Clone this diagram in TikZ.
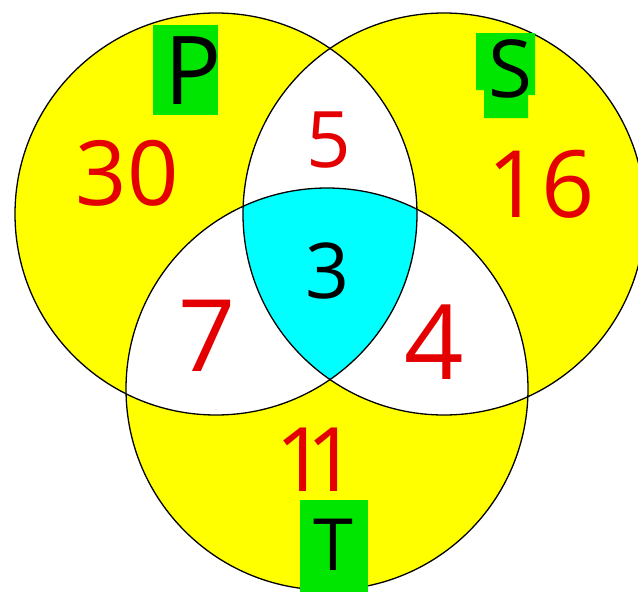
\documentclass[tikz,border=0pt]{standalone}
\usepackage{fontspec}
\setmainfont{Open Sans}
\definecolor{vyellow}{RGB}{255,255,0}
\definecolor{vcyan}{RGB}{0,255,255}
\definecolor{vgreen}{RGB}{0,230,0}
\definecolor{vred}{RGB}{228,0,0}
\begin{document}
\begin{tikzpicture}[x=1pt,y=-1pt,
  num/.style={text=vred, inner sep=0pt},
  setlbl/.style={text=black, inner sep=0pt},
  ring/.style={draw=black, line width=1.3pt},
  tag/.style={fill=vgreen, draw=none}]
\useasboundingbox (0,0) rectangle (638,592);
\coordinate (cP) at (216,214);
\coordinate (cS) at (444,214);
\coordinate (cT) at (327,389);
% single regions
\fill[vyellow] (cP) circle [radius=201pt];
\fill[vyellow] (cS) circle [radius=201pt];
\fill[vyellow] (cT) circle [radius=201pt];
% pairwise regions
\begin{scope}
  \clip (cP) circle [radius=201pt];
  \fill[white] (cS) circle [radius=201pt];
  \fill[white] (cT) circle [radius=201pt];
\end{scope}
\begin{scope}
  \clip (cS) circle [radius=201pt];
  \fill[white] (cT) circle [radius=201pt];
\end{scope}
% triple region
\begin{scope}
  \clip (cP) circle [radius=201pt];
  \clip (cS) circle [radius=201pt];
  \fill[vcyan] (cT) circle [radius=201pt];
\end{scope}
% outlines
\draw[ring] (cP) circle [radius=201pt];
\draw[ring] (cS) circle [radius=201pt];
\draw[ring] (cT) circle [radius=201pt];
% green tags
\fill[tag] (153,25) rectangle (218,115);
\fill[tag] (476,33) -- (535,33) -- (535,95) -- (528,95) -- (528,118) -- (484,118) -- (484,90) -- (476,90) -- cycle;
\fill[tag] (300,500) rectangle (368,592);
% set labels
\node[setlbl, font=\fontsize{95}{95}\selectfont] (lblP) at (193,71) {P};
\node[setlbl, font=\fontsize{80}{80}\selectfont] (lblS) at (510,69) {S};
\node[setlbl, font=\fontsize{72}{72}\selectfont] (lblT) at (333,545) {T};
% counts
\node[num, font=\fontsize{90}{90}\selectfont] (n30) at (127,173) {30};
\node[num, font=\fontsize{78}{78}\selectfont] (n5) at (329,140) {5};
\node[num, font=\fontsize{93}{93}\selectfont] (n16) at (541,184) {16};
\node[num, text=black, font=\fontsize{77}{77}\selectfont] (n3) at (328,271) {3};
\node[num, font=\fontsize{100}{100}\selectfont] (n7) at (207,336) {7};
\node[num, font=\fontsize{104}{104}\selectfont] (n4) at (434,342) {4};
\node[num, font=\fontsize{89}{89}\selectfont] (n11) at (316,460) {1\kern-20pt 1};
\end{tikzpicture}
\end{document}
